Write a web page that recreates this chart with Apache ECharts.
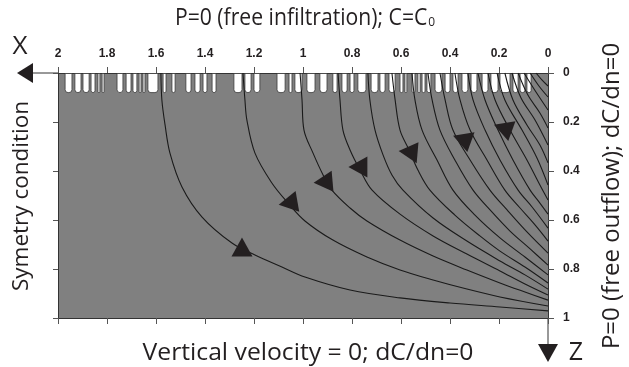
<!DOCTYPE html>
<html>
<head>
<meta charset="utf-8">
<script src="https://cdn.jsdelivr.net/npm/echarts@6/dist/echarts.min.js"></script>
<style>
  html, body { margin: 0; padding: 0; background: #fff; }
  #main { width: 629px; height: 367px; }
</style>
</head>
<body>
<div id="main"></div>
<script>
// streamlines, [X, Z] points (X runs 2 -> 0, Z runs 0 -> 1)
var line1 = [[1.580,0],[1.576,0.110],[1.563,0.212],[1.543,0.327],[1.494,0.465],[1.412,0.588],[1.290,0.694],[1.196,0.743],[1.086,0.792],[0.992,0.833],[0.808,0.886],[0.604,0.918],[0.400,0.939],[0.196,0.955],[0,0.971]];
var line2 = [[1.245,0],[1.237,0.110],[1.229,0.192],[1.196,0.327],[1.127,0.449],[1.061,0.531],[0.992,0.604],[0.878,0.682],[0.739,0.751],[0.604,0.804],[0.469,0.845],[0.331,0.882],[0.196,0.914],[0,0.951]];
var line3 = [[1.012,0],[1.004,0.110],[0.996,0.233],[0.959,0.327],[0.918,0.416],[0.882,0.478],[0.808,0.551],[0.739,0.604],[0.604,0.682],[0.469,0.747],[0.331,0.804],[0.196,0.857],[0.094,0.894],[0,0.927]];
var line4 = [[0.857,0],[0.849,0.110],[0.837,0.233],[0.808,0.314],[0.767,0.396],[0.718,0.478],[0.604,0.576],[0.469,0.665],[0.331,0.739],[0.196,0.808],[0.094,0.861],[0,0.906]];
var line5 = [[0.735,0],[0.727,0.110],[0.706,0.233],[0.673,0.335],[0.637,0.416],[0.592,0.478],[0.469,0.592],[0.331,0.686],[0.196,0.767],[0.094,0.824],[0,0.882]];
var line6 = [[0.637,0],[0.624,0.110],[0.604,0.233],[0.567,0.314],[0.531,0.396],[0.482,0.478],[0.380,0.580],[0.278,0.665],[0.196,0.727],[0.094,0.792],[0,0.857]];
var line7 = [[0.555,0],[0.543,0.110],[0.514,0.233],[0.453,0.355],[0.388,0.478],[0.298,0.580],[0.196,0.673],[0.094,0.751],[0,0.824]];
var line8 = [[0.490,0],[0.473,0.110],[0.441,0.233],[0.380,0.355],[0.306,0.478],[0.229,0.567],[0.155,0.645],[0.073,0.718],[0,0.784]];
var line9 = [[0.441,0],[0.420,0.110],[0.388,0.233],[0.318,0.355],[0.237,0.478],[0.167,0.559],[0.082,0.653],[0,0.735]];
var line10 = [[0.380,0],[0.359,0.110],[0.318,0.233],[0.249,0.355],[0.176,0.478],[0.114,0.551],[0.053,0.620],[0,0.686]];
var line11 = [[0.327,0],[0.306,0.110],[0.257,0.233],[0.196,0.355],[0.122,0.478],[0.065,0.547],[0,0.633]];
var line12 = [[0.286,0],[0.257,0.110],[0.204,0.233],[0.143,0.355],[0.073,0.478],[0.033,0.531],[0,0.576]];
var line13 = [[0.245,0],[0.216,0.110],[0.155,0.233],[0.086,0.355],[0.033,0.457],[0,0.518]];
var line14 = [[0.208,0],[0.176,0.110],[0.106,0.233],[0.045,0.347],[0,0.457]];
var line15 = [[0.176,0],[0.143,0.110],[0.086,0.212],[0.033,0.294],[0,0.367]];
var line16 = [[0.147,0],[0.110,0.102],[0.053,0.192],[0,0.294]];
var line17 = [[0.122,0],[0.082,0.090],[0.033,0.163],[0,0.224]];
var line18 = [[0.098,0],[0.057,0.065],[0,0.151]];
var line19 = [[0.073,0],[0.037,0.053],[0,0.098]];
var line20 = [[0.049,0],[0.024,0.029],[0,0.053]];
var streamlines = [line1,line2,line3,line4,line5,line6,line7,line8,line9,line10,
                   line11,line12,line13,line14,line15,line16,line17,line18,line19,line20];

// flow arrows (position and direction in degrees)
var arrowPts = [[1.249,0.710],[1.061,0.531],[0.918,0.445],[0.776,0.384],[0.571,0.322],[0.351,0.269],[0.184,0.224]];
var arrowAngle = [0, 100, 95, 90, 85, 70, 70];

// white gaps along the infiltration boundary, [X from, X to]
var notchFrom = [1.971,1.931,1.898,1.865,1.837,1.820,1.759,1.722,1.694,1.669,1.653,1.633,1.571,1.535,1.478,1.441,1.408,1.371,1.282,1.237,1.200,1.106,1.057,1.033,0.984,0.931,0.878,0.841,0.808,0.776,0.722,0.686,0.649,0.604,0.584,0.555,0.531,0.514,0.494,0.461,0.420,0.388,0.351,0.314,0.269,0.233,0.196,0.143,0.114,0.086];
var notchTo   = [1.943,1.906,1.873,1.849,1.829,1.812,1.735,1.702,1.678,1.661,1.645,1.592,1.559,1.522,1.457,1.420,1.392,1.355,1.249,1.212,1.176,1.073,1.045,1.004,0.951,0.902,0.861,0.820,0.792,0.743,0.694,0.665,0.624,0.592,0.576,0.543,0.522,0.502,0.478,0.433,0.400,0.367,0.327,0.290,0.245,0.204,0.155,0.122,0.094,0.069];

var dark = '#231f20';
var fontTxt = '"Open Sans", "Noto Sans", sans-serif';
var fontNum = '"Liberation Sans", Arial, sans-serif';

var chart = echarts.init(document.getElementById('main'), null, {renderer: 'canvas'});

var notchData = [];
for (var i = 0; i < notchFrom.length; i++) notchData.push([notchFrom[i], notchTo[i]]);

var series = [];
series.push({
    type: 'custom',
    xAxisIndex: 0, yAxisIndex: 0,
    data: notchData,
    z: 1,
    silent: true,
    renderItem: function (params, api) {
        var a = api.coord([api.value(0), 0]);
        var b = api.coord([api.value(1), 0.08]);
        return {
            type: 'rect',
            shape: {x: a[0], y: a[1] + 0.5, width: b[0] - a[0], height: b[1] - a[1] - 0.5, r: [0, 0, 3, 3]},
            style: {fill: '#ffffff', stroke: '#3a3a3a', lineWidth: 0.8}
        };
    }
});
for (var k = 0; k < streamlines.length; k++) {
    series.push({
        type: 'line',
        xAxisIndex: 0, yAxisIndex: 0,
        data: streamlines[k],
        smooth: 0.35,
        symbol: 'none',
        z: 3,
        lineStyle: {color: '#1a1a1a', width: 1.1}
    });
}
var arrowData = [];
for (var j = 0; j < arrowPts.length; j++) {
    arrowData.push({value: arrowPts[j], symbolRotate: arrowAngle[j]});
}
series.push({
    type: 'scatter',
    xAxisIndex: 0, yAxisIndex: 0,
    data: arrowData,
    symbol: 'triangle',
    symbolSize: [21, 19],
    z: 5,
    itemStyle: {color: dark, opacity: 1}
});

function tickFmt(v) { return String(+v.toFixed(1)); }

function label(text, x, y, size, rot, sx) {
    return {
        type: 'text', x: x, y: y, rotation: rot || 0, scaleX: sx || 1,
        style: {
            text: text, font: size + 'px ' + fontTxt, fill: dark,
            textAlign: 'center', textVerticalAlign: 'middle', align: 'center', verticalAlign: 'middle',
            rich: {sub: {fontSize: Math.round(size * 0.55), fontFamily: fontTxt, fill: dark, padding: [9, 0, 0, 1]}}
        }
    };
}

var option = {
    animation: false,
    backgroundColor: '#ffffff',
    grid: {
        left: 58, right: 81, top: 73, bottom: 49,
        show: true, backgroundColor: '#808080', borderWidth: 0
    },
    xAxis: [{
        type: 'value', position: 'top', min: 0, max: 2, interval: 0.2, inverse: true,
        axisLine: {show: true, onZero: false, lineStyle: {color: '#333', width: 1}},
        axisTick: {show: true, length: 6, lineStyle: {color: '#555'}},
        axisLabel: {fontFamily: fontNum, fontWeight: 'bold', fontSize: 12, color: dark, margin: 13, formatter: tickFmt},
        splitLine: {show: false}
    }, {
        type: 'value', position: 'bottom', min: 0, max: 2, interval: 0.2, inverse: true,
        axisLine: {show: true, onZero: false, lineStyle: {color: '#333', width: 1}},
        axisTick: {show: true, length: 6, lineStyle: {color: '#555'}},
        axisLabel: {show: false},
        splitLine: {show: false}
    }],
    yAxis: [{
        type: 'value', position: 'right', min: 0, max: 1, interval: 0.2, inverse: true,
        axisLine: {show: true, onZero: false, lineStyle: {color: '#333', width: 1}},
        axisTick: {show: true, length: 6, lineStyle: {color: '#555'}},
        axisLabel: {fontFamily: fontNum, fontWeight: 'bold', fontSize: 12, color: dark, margin: 15, formatter: tickFmt},
        splitLine: {show: false}
    }, {
        type: 'value', position: 'left', min: 0, max: 1, interval: 0.2, inverse: true,
        axisLine: {show: true, onZero: false, lineStyle: {color: '#333', width: 1}},
        axisTick: {show: true, length: 5, lineStyle: {color: '#555'}},
        axisLabel: {show: false},
        splitLine: {show: false}
    }],
    graphic: [
        label('P=0 (free infiltration); C=C{sub|0}', 305, 18, 23, 0, 0.92),
        label('X', 20, 47, 26),
        {type: 'line', shape: {x1: 30, y1: 73, x2: 58, y2: 73}, style: {stroke: '#333', lineWidth: 1}},
        {type: 'polygon', shape: {points: [[17, 73], [33, 63], [33, 83]]}, style: {fill: dark}},
        label('Symetry condition', 22, 196, 22.5, Math.PI / 2),
        label('Vertical velocity = 0; dC/dn=0', 308, 353, 24, 0, 1.03),
        {type: 'line', shape: {x1: 548, y1: 318, x2: 548, y2: 346}, style: {stroke: '#333', lineWidth: 1}},
        {type: 'polygon', shape: {points: [[538, 344], [558, 344], [548, 362]]}, style: {fill: dark}},
        label('Z', 576, 353, 25),
        label('P=0 (free outflow); dC/dn=0', 612, 196, 24, Math.PI / 2)
    ],
    series: series
};

chart.setOption(option);
</script>
</body>
</html>
